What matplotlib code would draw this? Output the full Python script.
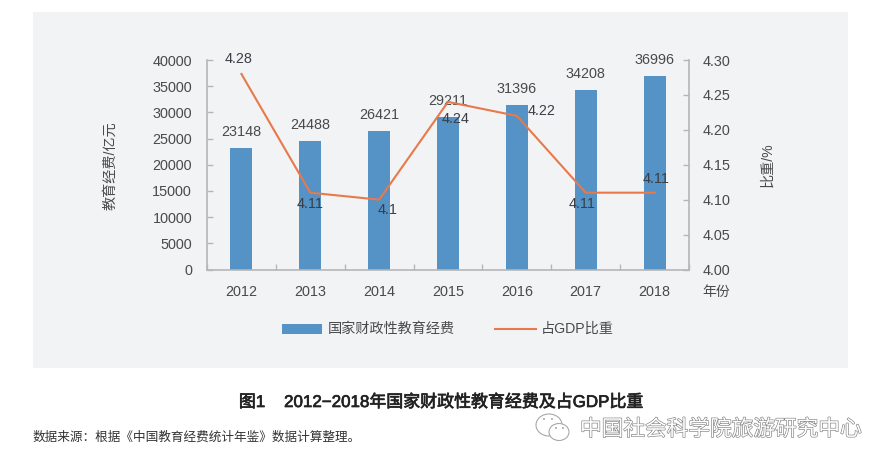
import matplotlib
matplotlib.use('Agg')
import matplotlib.pyplot as plt
import matplotlib.patheffects as pe
from matplotlib.patches import Rectangle, Ellipse

plt.rcParams['font.family'] = ['Liberation Sans', 'Noto Sans CJK SC', 'DejaVu Sans']

# data
years = ['2012', '2013', '2014', '2015', '2016', '2017', '2018']
funding = [23148, 24488, 26421, 29211, 31396, 34208, 36996]
share = [4.28, 4.11, 4.10, 4.24, 4.22, 4.11, 4.11]
share_labels = ['4.28', '4.11', '4.1', '4.24', '4.22', '4.11', '4.11']
left_ticks = [0, 5000, 10000, 15000, 20000, 25000, 30000, 35000, 40000]
right_ticks = [4.00, 4.05, 4.10, 4.15, 4.20, 4.25, 4.30]

W, H = 892, 468
BLUE = '#5592c6'
ORANGE = '#e8794a'
TEXT = '#4a4a4a'
AXIS = '#b5b6b8'
PANEL = '#f2f3f5'
FS = 10.4

fig = plt.figure(figsize=(W / 100, H / 100), dpi=100, facecolor='white')

# grey panel behind the chart
fig.add_artist(Rectangle((33 / W, 1 - 368 / H), 815 / W, 356 / H,
                         transform=fig.transFigure, fc=PANEL, ec='none', zorder=-5))

ax = fig.add_axes([207 / W, 1 - 269.5 / H, 482 / W, 209.5 / H])
ax.patch.set_alpha(0)
x = list(range(len(years)))
ax.bar(x, funding, width=0.32, color=BLUE, zorder=2)
ax.set_xlim(-0.5, 6.5)
ax.set_ylim(0, 40000)
ax.set_yticks(left_ticks)
ax.set_xticks([i + 0.5 for i in range(-1, 7)])
ax.set_xticklabels([])
ax.tick_params(axis='x', direction='in', length=4.5, width=1, color=AXIS)
ax.tick_params(axis='y', direction='in', length=4.5, width=1, color=AXIS,
               labelsize=FS, labelcolor=TEXT, pad=10.8)
for s in ['top', 'right']:
    ax.spines[s].set_visible(False)
for s in ['left', 'bottom']:
    ax.spines[s].set_color(AXIS)
    ax.spines[s].set_linewidth(1.2)

ax2 = ax.twinx()
ax2.patch.set_alpha(0)
ax2.plot(x, share, color=ORANGE, lw=1.5, zorder=3)
ax2.set_ylim(4.0, 4.3)
ax2.set_yticks(right_ticks)
ax2.set_yticklabels(['%.2f' % t for t in right_ticks])
ax2.tick_params(axis='y', direction='in', length=4.5, width=1, color=AXIS,
                labelsize=FS, labelcolor=TEXT, pad=9.5)
for s in ['top', 'left', 'bottom']:
    ax2.spines[s].set_visible(False)
ax2.spines['right'].set_color(AXIS)
ax2.spines['right'].set_linewidth(1.2)

# year labels
for i, y in enumerate(years):
    ax.annotate(y, (i, 0), xytext=(0, -16), textcoords='offset points', ha='center',
                va='center', fontsize=FS, color=TEXT)
ax.annotate('年份', (1, 0), xycoords='axes fraction', xytext=(19.5, -16), textcoords='offset points',
            ha='center', va='center', fontsize=10, color=TEXT)

# value labels above the bars
for i, v in enumerate(funding):
    ax.annotate(str(v), (i, v), xytext=(0, 11.5), textcoords='offset points', ha='center',
                va='center', fontsize=FS, color=TEXT, zorder=5)

# share labels, each placed by hand as in the original
offsets = [(-3, 15), (0, -11), (8, -10), (8, -17), (25, 5), (-4, -11), (2, 14)]
for i, (v, lab) in enumerate(zip(share, share_labels)):
    ax2.annotate(lab, (i, v), xytext=offsets[i], textcoords='offset pixels', ha='center',
                 va='center', fontsize=FS, color='#3a3f46', zorder=5)

# axis titles
fig.text(110 / W, 1 - 166 / H, '教育经费/亿元', rotation=90, ha='center', va='center',
         fontsize=10.2, color=TEXT)
fig.text(767 / W, 1 - 165 / H, '比重/%', rotation=90, ha='center', va='center',
         fontsize=10.2, color=TEXT)

# legend
fig.add_artist(Rectangle((282 / W, 1 - 334 / H), 40 / W, 10 / H, transform=fig.transFigure,
                         fc=BLUE, ec='none'))
fig.text(327.5 / W, 1 - 328.5 / H, '国家财政性教育经费', ha='left', va='center', fontsize=10.2, color=TEXT)
fig.add_artist(plt.Line2D([495 / W, 535.5 / W], [1 - 328.5 / H, 1 - 328.5 / H], color=ORANGE, lw=1.5))
fig.text(541 / W, 1 - 328.5 / H, '占GDP比重', ha='left', va='center', fontsize=10.2, color=TEXT)

# caption and source
fig.text(440.5 / W, 1 - 402 / H, '图1    2012−2018年国家财政性教育经费及占GDP比重', ha='center', va='center',
         fontsize=12.2, color='#222222',
         path_effects=[pe.withStroke(linewidth=0.5, foreground='#222222')])
fig.text(33 / W, 1 - 438 / H, '数据来源：根据《中国教育经费统计年鉴》数据计算整理。', ha='left', va='center',
         fontsize=9.1, color='#333333')

# watermark with its chat bubble logo
fig.text(580 / W, 1 - 430 / H, '中国社会科学院旅游研究中心', ha='left', va='center', fontsize=15.6,
         color='white', path_effects=[pe.withStroke(linewidth=0.9, foreground='#808080')])
for cx, cy, w, h in [(549, 425, 26, 22), (559, 432, 20, 17)]:
    fig.add_artist(Ellipse((cx / W, 1 - cy / H), w / W, h / H, transform=fig.transFigure,
                           fc='white', ec='#a8a8a8', lw=0.8))
for cx, cy in [(544, 419), (552, 419), (556, 428), (563, 428)]:
    fig.add_artist(Ellipse((cx / W, 1 - cy / H), 2 / W, 2 / H, transform=fig.transFigure,
                           fc='#a8a8a8', ec='none'))

fig.savefig('out.png', dpi=100, facecolor='white')
